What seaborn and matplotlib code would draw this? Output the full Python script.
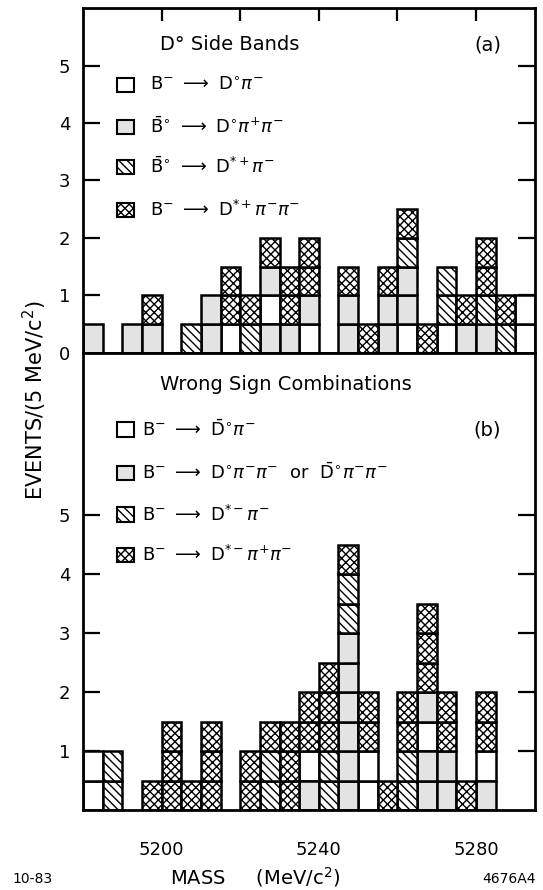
import matplotlib
matplotlib.use("Agg")
import matplotlib.pyplot as plt
from matplotlib.patches import Rectangle
import seaborn as sns
import pandas as pd

# ---------------- data ----------------
# lower edge of each 5 MeV mass bin
mass_a = [5180, 5185, 5190, 5195, 5200, 5205, 5210, 5215, 5220, 5225, 5230, 5235,
          5240, 5245, 5250, 5255, 5260, 5265, 5270, 5275, 5280, 5285, 5290]
# stacked boxes per bin, bottom -> top (W open, S stippled, D hatched, X cross-hatched)
boxes_a = ["S", "", "S", "SX", "", "D", "SS", "WXX", "DX", "SWSX", "SXX", "WSXX",
           "", "SSX", "X", "SSX", "WSSDX", "X", "WDD", "SX", "SDXX", "DX", "WW"]

mass_b = [5180, 5185, 5190, 5195, 5200, 5205, 5210, 5215, 5220, 5225, 5230, 5235,
          5240, 5245, 5250, 5255, 5260, 5265, 5270, 5275, 5280]
boxes_b = ["WW", "DD", "", "X", "XXX", "X", "XXX", "", "XX", "DDX", "XXX", "SWXX",
           "DDXXX", "SSSSSSDDX", "WWXX", "X", "DDXX", "SSWSXXX", "SSXX", "X", "SWXX"]

box_height = 0.5
categories = ["W", "S", "D", "X"]

labels_a = [r"$\mathrm{B}^{-}\ \longrightarrow\ \mathrm{D}^{\circ}\pi^{-}$",
            r"$\bar{\mathrm{B}}^{\circ}\ \longrightarrow\ \mathrm{D}^{\circ}\pi^{+}\pi^{-}$",
            r"$\bar{\mathrm{B}}^{\circ}\ \longrightarrow\ \mathrm{D}^{*+}\pi^{-}$",
            r"$\mathrm{B}^{-}\ \longrightarrow\ \mathrm{D}^{*+}\pi^{-}\pi^{-}$"]
labels_b = [r"$\mathrm{B}^{-}\ \longrightarrow\ \bar{\mathrm{D}}^{\circ}\pi^{-}$",
            r"$\mathrm{B}^{-}\ \longrightarrow\ \mathrm{D}^{\circ}\pi^{-}\pi^{-}\ \ \mathrm{or}\ \ \bar{\mathrm{D}}^{\circ}\pi^{-}\pi^{-}$",
            r"$\mathrm{B}^{-}\ \longrightarrow\ \mathrm{D}^{*-}\pi^{-}$",
            r"$\mathrm{B}^{-}\ \longrightarrow\ \mathrm{D}^{*-}\pi^{+}\pi^{-}$"]

title_a = "D° Side Bands"
title_b = "Wrong Sign Combinations"
yticks_a = [0, 1, 2, 3, 4, 5]
yticks_b = [1, 2, 3, 4, 5]
xticks_top = [5200, 5220, 5240, 5260, 5280]
xticks_bottom = [5200, 5240, 5280]

# ---------------- style ----------------
sns.set_theme(style="white")
plt.rcParams["font.family"] = ["DejaVu Sans"]
plt.rcParams["hatch.linewidth"] = 1.0
for key in ("text.color", "axes.labelcolor", "xtick.color", "ytick.color",
            "axes.edgecolor"):
    plt.rcParams[key] = "black"

styles = {
    "W": dict(facecolor="white", hatch=None),
    "S": dict(facecolor="#e3e3e3", hatch=None),
    "D": dict(facecolor="white", hatch="\\" * 4),
    "X": dict(facecolor="white", hatch="x" * 4),
}


def to_frame(mass, boxes):
    rows = []
    for m, s in zip(mass, boxes):
        for k, c in enumerate(s):
            rows.append({"mass": m, "bottom": k * box_height, "cat": c})
    return pd.DataFrame(rows)


def draw_panel(ax, mass, boxes):
    df = to_frame(mass, boxes)
    for c in categories:
        sub = df[df["cat"] == c]
        if len(sub):
            ax.bar(sub["mass"], box_height, bottom=sub["bottom"], width=5,
                   align="edge", edgecolor="black", linewidth=1.8, **styles[c])


def legend_block(ax, labels, x_box, x_text, ys, bw, bh, fs):
    for c, lab, y in zip(categories, labels, ys):
        ax.add_patch(Rectangle((x_box, y - bh / 2), bw, bh, transform=ax.transAxes,
                               edgecolor="black", linewidth=1.5, clip_on=False,
                               **styles[c]))
        ax.text(x_text, y, lab, transform=ax.transAxes, fontsize=fs,
                va="center", ha="left")


fig = plt.figure(figsize=(5.43, 8.90), dpi=100)
ax_a = fig.add_axes([0.1529, 0.6034, 0.8324, 0.3876])
ax_b = fig.add_axes([0.1529, 0.0899, 0.8324, 0.5135])

xlim = (5180, 5295)

# panel (a)
draw_panel(ax_a, mass_a, boxes_a)
ax_a.set_xlim(*xlim)
ax_a.set_ylim(0, 6)
ax_a.set_yticks(yticks_a)
ax_a.set_yticklabels([str(v) for v in yticks_a])
ax_a.tick_params(axis="y", which="both", direction="in", length=12, width=1.6,
                 left=True, right=True, labelsize=13, pad=9)
ax_a.set_xticks(xticks_top)
ax_a.tick_params(axis="x", direction="in", length=9, width=1.6, top=True,
                 bottom=False, labelbottom=False, labeltop=False)
ax_a.text(0.17, 0.893, title_a, transform=ax_a.transAxes, fontsize=14,
          va="center", ha="left")
ax_a.text(0.895, 0.893, "(a)", transform=ax_a.transAxes, fontsize=14,
          va="center", ha="center")
legend_block(ax_a, labels_a, 0.075, 0.148, [0.777, 0.655, 0.539, 0.414],
             0.037, 0.042, 13)

# panel (b)
draw_panel(ax_b, mass_b, boxes_b)
ax_b.set_xlim(*xlim)
ax_b.set_ylim(0, 7.75)
ax_b.set_yticks(yticks_b)
ax_b.set_yticklabels([str(v) for v in yticks_b])
ax_b.tick_params(axis="y", which="both", direction="in", length=12, width=1.6,
                 left=True, right=True, labelsize=13, pad=9)
ax_b.set_xticks(xticks_bottom)
ax_b.set_xticklabels([str(v) for v in xticks_bottom])
ax_b.tick_params(axis="x", direction="in", length=0, bottom=True, top=False,
                 labelsize=13, pad=22)
ax_b.text(0.17, 0.930, title_b, transform=ax_b.transAxes, fontsize=14,
          va="center", ha="left")
ax_b.text(0.895, 0.832, "(b)", transform=ax_b.transAxes, fontsize=14,
          va="center", ha="center")
legend_block(ax_b, labels_b, 0.075, 0.13, [0.832, 0.737, 0.646, 0.558],
             0.037, 0.032, 13)

for ax in (ax_a, ax_b):
    for sp in ax.spines.values():
        sp.set_linewidth(2)
        sp.set_color("black")
        sp.set_visible(True)

fig.text(0.064, 0.55, r"EVENTS/(5 MeV/c$^{2}$)", rotation=90, fontsize=15,
         ha="center", va="center")
fig.text(0.47, 1 - 877 / 890, r"MASS     (MeV/c$^{2}$)", fontsize=14,
         ha="center", va="center")
fig.text(12 / 543, 1 - 879 / 890, "10-83", fontsize=10, ha="left", va="center")
fig.text(536 / 543, 1 - 879 / 890, "4676A4", fontsize=10, ha="right", va="center")

fig.savefig("out.png", dpi=100)
